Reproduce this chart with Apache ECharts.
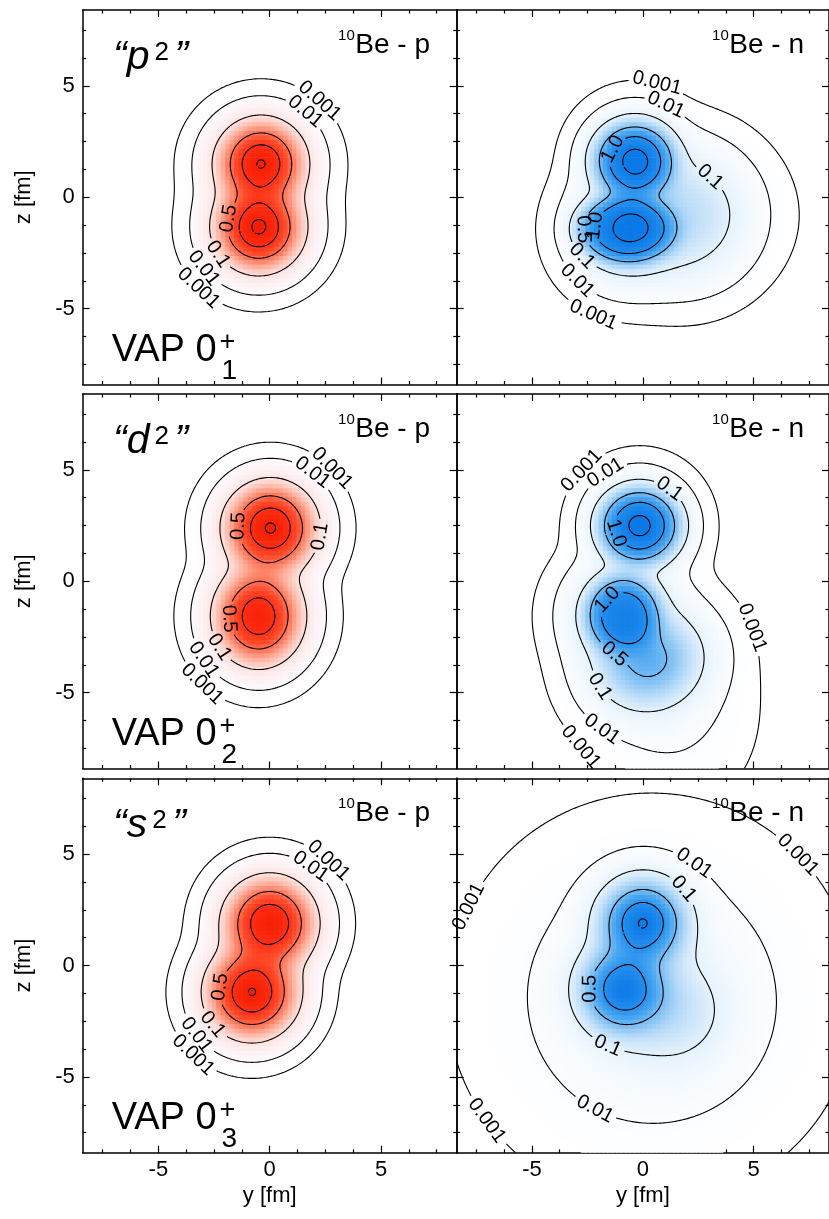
<!DOCTYPE html>
<html><head><meta charset="utf-8">
<script src="https://cdn.jsdelivr.net/npm/echarts@6/dist/echarts.min.js"></script>
<style>html,body{margin:0;padding:0;background:#fff}#c{width:829px;height:1219px}</style>
</head><body><div id="c"></div>
<script>
// ---------------- data ----------------
const RANGE = 8.4;
const majorTicks = [-5, 0, 5];
const minorTicks = [-7.5, -6.25, -3.75, -2.5, -1.25, 1.25, 2.5, 3.75, 6.25, 7.5];
const contourLevels = [0.001, 0.01, 0.1, 0.5, 1.0, 1.5];
const orbitalNames = ['p', 'd', 's'];
const stateIndices = ['1', '2', '3'];
const nucleonTags = ['p', 'n'];

// density blobs: [y0, z0, ay, az, tiltDeg, power, amplitude]
const pSqProton = [
  [-0.39, 1.52, 1.245, 1.245, 0, 2, 1.27], [-0.39, 1.52, 1.65, 1.6, 0, 2, 0.244],
  [-0.49, -1.35, 1.245, 1.245, 0, 2, 1.33], [-0.49, -1.35, 1.65, 1.6, 0, 2, 0.244]
];
const pSqNeutron = [
  [-0.37, 1.66, 1.5, 1.4, 0, 2.8, 1.28], [-0.37, 1.66, 1.5, 1.5, 0, 2, 0.3],
  [-0.7, -1.42, 1.95, 1.35, 0, 3.6, 1.17], [-0.7, -1.42, 1.7, 1.7, 0, 2, 0.37],
  [1.8, -0.8, 2.3, 2.3, 0, 2.2, 0.21], [2.5, -0.8, 2.6, 2.2, 0, 2, 0.012]
];
const dSqProton = [
  [0.03, 2.39, 1.315, 1.315, 0, 2, 1.3], [0.03, 2.39, 1.6, 1.6, 0, 2, 0.244],
  [-0.5, -1.57, 1.27, 1.42, 0, 2, 1.12], [-0.5, -1.57, 1.6, 1.7, 0, 2, 0.244]
];
const dSqNeutron = [
  [-0.15, 2.5, 1.5, 1.38, 0, 2.8, 1.28], [-0.15, 2.5, 1.5, 1.5, 0, 2, 0.3],
  [-0.9, -1.5, 1.45, 1.5, 0, 3.2, 1.0], [-0.9, -1.5, 1.7, 1.7, 0, 2, 0.3],
  [0.3, -3.6, 1.85, 1.6, 19, 2, 0.55], [0.8, -4.6, 2.4, 3.2, 19, 2, 0.025]
];
const sSqProton = [
  [0.0, 1.9, 1.33, 1.33, 0, 2, 1.22], [0.0, 1.9, 1.6, 1.6, 0, 2, 0.244],
  [-0.8, -1.2, 1.33, 1.33, 0, 2, 1.27], [-0.8, -1.2, 1.6, 1.6, 0, 2, 0.244]
];
const sSqNeutron = [
  [0.0, 1.93, 1.36, 1.36, 0, 2, 1.24], [0.0, 1.93, 1.65, 1.65, 0, 2, 0.24],
  [-0.9, -1.06, 1.36, 1.36, 0, 2, 1.1], [-0.9, -1.06, 1.65, 1.65, 0, 2, 0.24],
  [1.6, -2.2, 1.9, 1.9, 0, 2, 0.1]
];
// long-range tail: [y0, z0, decayLength, amplitude]
const sSqNeutronTail = [[0.4, -1.5, 1.58, 0.19]];

// contour label anchors: [text, y, z]
const pSqProtonLabels = [['0.001', 2.32, 4.37], ['0.01', 1.72, 4.0], ['0.5', -1.8, -1.0], ['0.1', -2.4, -2.64], ['0.01', -3.07, -3.24], ['0.001', -3.22, -4.13]];
const pSqNeutronLabels = [['0.001', 0.67, 5.2], ['0.01', 1.12, 4.23], ['1.0', -1.12, 1.99], ['0.1', 3.22, 1.16], ['0.5', -2.7, -1.45], ['1.0', -2.0, -1.3], ['0.1', -3.07, -2.94], ['0.01', -2.92, -3.69], ['0.001', -2.02, -4.88]];
const dSqProtonLabels = [['0.001', 2.7, 5.0], ['0.01', 1.8, 4.7], ['0.5', -1.35, 2.46], ['0.1', 2.25, 2.0], ['0.5', -1.95, -1.71], ['0.1', -2.4, -3.06], ['0.01', -3.07, -3.58], ['0.001', -3.14, -4.7]];
const dSqNeutronLabels = [['0.001', -2.84, 5.0], ['0.01', -1.87, 5.22], ['0.1', 1.35, 4.33], ['1.0', -1.05, 2.24], ['1.0', -1.5, -0.9], ['0.5', -1.27, -3.2], ['0.1', -1.65, -4.55], ['0.01', -1.8, -6.57], ['0.001', -2.55, -7.24], ['0.001', 4.71, -2.16]];
const sSqProtonLabels = [['0.001', 2.7, 4.73], ['0.01', 1.8, 4.43], ['0.5', -2.25, -0.94], ['0.1', -2.7, -2.73], ['0.01', -3.37, -3.18], ['0.001', -3.44, -4.07]];
const sSqNeutronLabels = [['0.001', 6.81, 4.81], ['0.001', -7.86, 2.64], ['0.001', -7.18, -7.06], ['0.01', 2.17, 4.43], ['0.1', 1.72, 3.31], ['0.5', -2.32, -1.01], ['0.1', -1.5, -3.4], ['0.01', -1.72, -5.57]];

const redStops = [[0, '#ffffff'], [0.02, '#fdf5f8'], [0.1, '#fde2df'], [0.2, '#ffc0b2'], [0.4, '#ff8266'], [0.7, '#ff4a2a'], [1.0, '#ff3016'], [1.6, '#f41c00']];
const blueStops = [[0, '#ffffff'], [0.02, '#f7fbfe'], [0.1, '#e4f1fc'], [0.2, '#c6e2f9'], [0.4, '#8cc6f4'], [0.7, '#4aa6f0'], [1.0, '#2690ee'], [1.6, '#0a78e6']];

// ---------------- layout ----------------
const FONT = '"Liberation Sans", Arial, sans-serif';
const rowTops = [10, 394, 778.3];
const colLefts = [82.7, 456.7];
const PANEL_W = 374, PANEL_H = 374.5;
const PX_PER_UNIT = PANEL_W / (2 * RANGE);
const LABEL_FONT_SIZE = 20;

const panels = [
  { blobs: pSqProton, tails: [], labels: pSqProtonLabels, stops: redStops },
  { blobs: pSqNeutron, tails: [], labels: pSqNeutronLabels, stops: blueStops },
  { blobs: dSqProton, tails: [], labels: dSqProtonLabels, stops: redStops },
  { blobs: dSqNeutron, tails: [], labels: dSqNeutronLabels, stops: blueStops },
  { blobs: sSqProton, tails: [], labels: sSqProtonLabels, stops: redStops },
  { blobs: sSqNeutron, tails: sSqNeutronTail, labels: sSqNeutronLabels, stops: blueStops }
];

function field(blobs, tails, y, z) {
  let s = 0;
  for (const b of blobs) {
    const dy = y - b[0], dz = z - b[1];
    const th = b[4] * Math.PI / 180, c = Math.cos(th), sn = Math.sin(th);
    const u = (c * dy + sn * dz) / b[2], v = (-sn * dy + c * dz) / b[3];
    s += b[6] * Math.exp(-Math.pow(u * u + v * v, b[5] / 2));
  }
  for (const t of tails) {
    const r2 = (y - t[0]) ** 2 + (z - t[1]) ** 2;
    s += t[3] * Math.exp(-(Math.sqrt(r2 + 1) - 1) / t[2]);
  }
  return s;
}

function hex2rgb(h) { return [parseInt(h.slice(1, 3), 16), parseInt(h.slice(3, 5), 16), parseInt(h.slice(5, 7), 16)]; }
function colorFor(v, stops) {
  if (v <= stops[0][0]) return stops[0][1];
  for (let i = 1; i < stops.length; i++) {
    if (v <= stops[i][0]) {
      const t = (v - stops[i - 1][0]) / (stops[i][0] - stops[i - 1][0]);
      const a = hex2rgb(stops[i - 1][1]), b = hex2rgb(stops[i][1]);
      return 'rgb(' + a.map((x, k) => Math.round(x + (b[k] - x) * t)).join(',') + ')';
    }
  }
  return stops[stops.length - 1][1];
}

// marching squares
function contourLines(V, N, coords, level) {
  const pts = new Map(), adj = new Map();
  const idx = (i, j) => i * N + j;
  function ep(key, i1, j1, i2, j2) {
    if (!pts.has(key)) {
      const v1 = V[idx(i1, j1)], v2 = V[idx(i2, j2)];
      const t = (level - v1) / (v2 - v1);
      pts.set(key, [coords[i1] + (coords[i2] - coords[i1]) * t, coords[j1] + (coords[j2] - coords[j1]) * t]);
    }
    return key;
  }
  function seg(a, b) {
    if (!adj.has(a)) adj.set(a, []);
    if (!adj.has(b)) adj.set(b, []);
    adj.get(a).push(b); adj.get(b).push(a);
  }
  for (let i = 0; i < N - 1; i++) for (let j = 0; j < N - 1; j++) {
    const a = V[idx(i, j)], b = V[idx(i + 1, j)], c = V[idx(i + 1, j + 1)], d = V[idx(i, j + 1)];
    const cs = (a > level ? 1 : 0) | (b > level ? 2 : 0) | (c > level ? 4 : 0) | (d > level ? 8 : 0);
    if (cs === 0 || cs === 15) continue;
    const E0 = () => ep('h' + i + '_' + j, i, j, i + 1, j);
    const E1 = () => ep('v' + (i + 1) + '_' + j, i + 1, j, i + 1, j + 1);
    const E2 = () => ep('h' + i + '_' + (j + 1), i, j + 1, i + 1, j + 1);
    const E3 = () => ep('v' + i + '_' + j, i, j, i, j + 1);
    const center = (a + b + c + d) / 4;
    switch (cs) {
      case 1: case 14: seg(E3(), E0()); break;
      case 2: case 13: seg(E0(), E1()); break;
      case 3: case 12: seg(E3(), E1()); break;
      case 4: case 11: seg(E1(), E2()); break;
      case 6: case 9: seg(E0(), E2()); break;
      case 7: case 8: seg(E2(), E3()); break;
      case 5:
        if (center > level) { seg(E0(), E1()); seg(E2(), E3()); } else { seg(E3(), E0()); seg(E1(), E2()); }
        break;
      case 10:
        if (center > level) { seg(E3(), E0()); seg(E1(), E2()); } else { seg(E0(), E1()); seg(E2(), E3()); }
        break;
    }
  }
  const visited = new Set(), lines = [];
  function walk(start) {
    const line = [pts.get(start)]; visited.add(start);
    let cur = start, closed = false;
    while (true) {
      const nb = adj.get(cur).find(k => !visited.has(k));
      if (nb === undefined) {
        if (adj.get(cur).includes(start) && line.length > 2) { closed = true; }
        break;
      }
      visited.add(nb); line.push(pts.get(nb)); cur = nb;
    }
    return { pts: line, closed, level };
  }
  for (const k of adj.keys()) if (!visited.has(k) && adj.get(k).length === 1) lines.push(walk(k));
  for (const k of adj.keys()) if (!visited.has(k)) lines.push(walk(k));
  return lines;
}

const mctx = document.createElement('canvas').getContext('2d');
function textW(t, font) { mctx.font = font; return mctx.measureText(t).width; }

function cutLabels(lines, labels) {
  const texts = [];
  for (const [txt, ly, lz] of labels) {
    const level = parseFloat(txt);
    let best = null, bd = Infinity;
    lines.forEach((ln, li) => {
      if (Math.abs(ln.level - level) > 1e-9) return;
      ln.pts.forEach((p, k) => {
        const d = (p[0] - ly) ** 2 + (p[1] - lz) ** 2;
        if (d < bd) { bd = d; best = [li, k]; }
      });
    });
    if (!best) continue;
    const ln = lines[best[0]];
    const half = (textW(txt, LABEL_FONT_SIZE + 'px ' + FONT) / 2 + 3) / PX_PER_UNIT;
    const P = ln.pts, n = P.length, k = best[1];
    const dist = (p, q) => Math.hypot(p[0] - q[0], p[1] - q[1]);
    let k2 = k, acc = 0, steps = 0;
    while (acc < half && steps < n - 2) {
      const nx = ln.closed ? (k2 + 1) % n : k2 + 1;
      if (nx >= n) break;
      acc += dist(P[k2], P[nx]); k2 = nx; steps++;
    }
    let k1 = k; acc = 0; steps = 0;
    while (acc < half && steps < n - 2) {
      const pv = ln.closed ? (k1 - 1 + n) % n : k1 - 1;
      if (pv < 0) break;
      acc += dist(P[k1], P[pv]); k1 = pv; steps++;
    }
    texts.push({ text: txt, at: P[k], a: P[k1], b: P[k2] });
    const pieces = [];
    if (ln.closed) {
      const arr = [];
      let i = k2;
      while (true) { arr.push(P[i]); if (i === k1) break; i = (i + 1) % n; }
      pieces.push({ pts: arr, closed: false, level: ln.level });
    } else {
      if (k1 > 0) pieces.push({ pts: P.slice(0, k1 + 1), closed: false, level: ln.level });
      if (k2 < n - 1) pieces.push({ pts: P.slice(k2), closed: false, level: ln.level });
    }
    lines.splice(best[0], 1, ...pieces.filter(p => p.pts.length > 1));
  }
  return texts;
}

// ---------------- build ----------------
const NC = 211, coords = [];
for (let i = 0; i < NC; i++) coords.push(-RANGE + 2 * RANGE * i / (NC - 1));
const HEAT_STEP = 0.2, NH = Math.round(2 * RANGE / HEAT_STEP);

const grids = [], xAxes = [], yAxes = [], series = [], graphics = [];
function mkAxis(dim, gridIndex, position, major, showLabels, name) {
  const ax = {
    type: 'value', gridIndex, position, min: -RANGE, max: RANGE,
    axisLine: { show: major, onZero: false, lineStyle: { color: '#000', width: 1.5 } },
    axisTick: { show: true, inside: true, length: major ? 7 : 3.5, customValues: major ? majorTicks : minorTicks, lineStyle: { color: '#000', width: 1.2 } },
    axisLabel: { show: showLabels, customValues: majorTicks, color: '#000', fontSize: 22, fontFamily: FONT, margin: dim === 'x' ? 6 : 8 },
    splitLine: { show: false }, minorTick: { show: false }
  };
  if (name) {
    ax.name = name; ax.nameLocation = 'middle';
    ax.nameTextStyle = { color: '#000', fontSize: 22, fontFamily: FONT };
    ax.nameGap = dim === 'x' ? 32 : 48;
  }
  return ax;
}

panels.forEach((pn, g) => {
  const row = Math.floor(g / 2), col = g % 2;
  const T = rowTops[row], L = colLefts[col];
  for (let r = 0; r < 2; r++) grids.push({ left: L, top: T, width: PANEL_W, height: PANEL_H, containLabel: false });
  const gm = 2 * g, gn = 2 * g + 1;
  xAxes.push(mkAxis('x', gm, 'bottom', true, row === 2, row === 2 ? 'y [fm]' : null));
  xAxes.push(mkAxis('x', gm, 'top', true, false));
  xAxes.push(mkAxis('x', gn, 'bottom', false, false));
  xAxes.push(mkAxis('x', gn, 'top', false, false));
  yAxes.push(mkAxis('y', gm, 'left', true, col === 0, col === 0 ? 'z [fm]' : null));
  yAxes.push(mkAxis('y', gm, 'right', true, false));
  yAxes.push(mkAxis('y', gn, 'left', false, false));
  yAxes.push(mkAxis('y', gn, 'right', false, false));
  const xi = 4 * g, yi = 4 * g;

  // heat cells
  const heat = [];
  for (let a = 0; a < NH; a++) for (let b = 0; b < NH; b++) {
    const y = -RANGE + HEAT_STEP * (a + 0.5), z = -RANGE + HEAT_STEP * (b + 0.5);
    const v = field(pn.blobs, pn.tails, y, z);
    if (v > 0.003) heat.push([y, z, v]);
  }
  series.push({
    type: 'custom', xAxisIndex: xi, yAxisIndex: yi, data: heat, clip: true, silent: true, z: 1, progressive: 0,
    renderItem: (params, api) => {
      const y = api.value(0), z = api.value(1), v = api.value(2);
      const p0 = api.coord([y - HEAT_STEP / 2, z + HEAT_STEP / 2]);
      const p1 = api.coord([y + HEAT_STEP / 2, z - HEAT_STEP / 2]);
      return { type: 'rect', shape: { x: p0[0], y: p0[1], width: p1[0] - p0[0] + 0.7, height: p1[1] - p0[1] + 0.7 }, style: { fill: colorFor(v, pn.stops) } };
    }
  });

  // contours
  const V = new Float64Array(NC * NC);
  for (let i = 0; i < NC; i++) for (let j = 0; j < NC; j++) V[i * NC + j] = field(pn.blobs, pn.tails, coords[i], coords[j]);
  let lines = [];
  for (const lv of contourLevels) lines = lines.concat(contourLines(V, NC, coords, lv));
  const texts = cutLabels(lines, pn.labels);
  series.push({
    type: 'custom', xAxisIndex: xi, yAxisIndex: yi, clip: true, silent: true, z: 3, progressive: 0,
    data: lines.map((ln, i) => [ln.pts[0][0], ln.pts[0][1], i]),
    renderItem: (params, api) => {
      const ln = lines[api.value(2)];
      return { type: 'polyline', shape: { points: ln.pts.map(p => api.coord(p)) }, style: { stroke: '#000', fill: null, lineWidth: 1.1 } };
    }
  });
  series.push({
    type: 'custom', xAxisIndex: xi, yAxisIndex: yi, clip: false, silent: true, z: 4, progressive: 0,
    data: texts.map((t, i) => [t.at[0], t.at[1], i]),
    renderItem: (params, api) => {
      const t = texts[api.value(2)];
      const pa = api.coord(t.a), pb = api.coord(t.b), pc = api.coord(t.at);
      let ang = Math.atan2(pb[1] - pa[1], pb[0] - pa[0]);
      if (ang > Math.PI / 2) ang -= Math.PI;
      if (ang < -Math.PI / 2) ang += Math.PI;
      return { type: 'text', x: pc[0], y: pc[1], rotation: -ang, style: { text: t.text, font: LABEL_FONT_SIZE + 'px ' + FONT, fill: '#000', align: 'center', verticalAlign: 'middle' } };
    }
  });

  // annotations
  const R = L + PANEL_W;
  const tagFont = '28px ' + FONT, supFont = '15px ' + FONT;
  const tag = 'Be - ' + nucleonTags[col];
  const tagW = textW(tag, tagFont);
  const txt = (text, x, base, font, fs, align) => ({
    type: 'text', x, y: base - 0.3465 * fs, z: 100, silent: true,
    style: { text, font, fill: '#000', align: align || 'left', verticalAlign: 'middle', textAlign: align || 'left', textVerticalAlign: 'middle' }
  });
  graphics.push(txt(tag, R - 26.7, T + 45, tagFont, 28, 'right'));
  graphics.push(txt('10', R - 26.7 - tagW - 0.5, T + 31, supFont, 15, 'right'));
  if (col === 0) {
    const itFont = 'italic 41px ' + FONT;
    const head = '\u201C' + orbitalNames[row];
    const hw = textW(head, itFont);
    graphics.push(txt(head, 113, T + 62, itFont, 41));
    const supX = 113 + hw + 5;
    graphics.push(txt('2', supX, T + 52, '26px ' + FONT, 26));
    graphics.push(txt('\u201D', supX + 20, T + 62, itFont, 41));
    const vapFont = '38px ' + FONT;
    const vw = textW('VAP 0', vapFont);
    graphics.push(txt('VAP 0', 111.7, T + 353.5, vapFont, 38));
    graphics.push(txt('+', 111.7 + vw + 3, T + 342, '27px ' + FONT, 27));
    graphics.push(txt(stateIndices[row], 111.7 + vw + 5, T + 371, '28px ' + FONT, 28));
  }
});

const chart = echarts.init(document.getElementById('c'), null, { renderer: 'canvas' });
chart.setOption({
  backgroundColor: '#fff', animation: false,
  grid: grids, xAxis: xAxes, yAxis: yAxes, series, graphic: graphics
});
</script></body></html>
